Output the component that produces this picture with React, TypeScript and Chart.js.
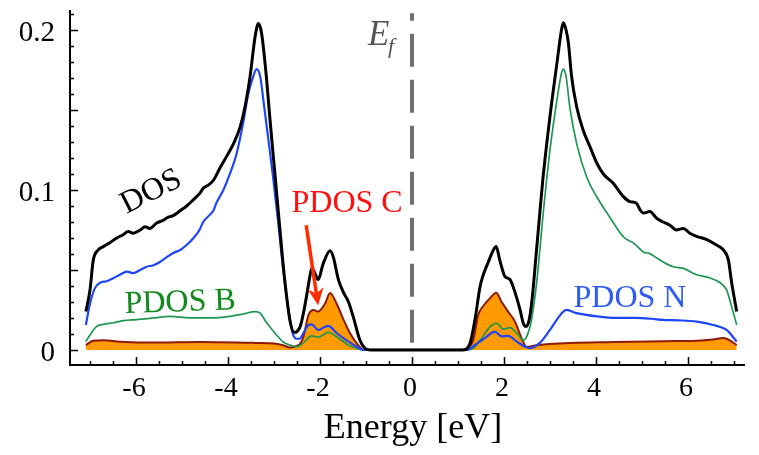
import { useEffect, useRef } from 'react';
import { Chart, registerables } from 'chart.js';

Chart.register(...registerables);

// ---- Density of states data (states / eV) ----
const dosEnergy = [
  -7.09, -7.0, -6.93, -6.82, -6.71, -6.57, -6.42, -6.28, -6.17, -6.06, -5.91, -5.8, -5.7, -5.55, -5.41,
  -5.3, -5.19, -5.04, -4.9, -4.75, -4.61, -4.54, -4.43, -4.32, -4.17, -4.03, -3.88, -3.74, -3.63, -3.52,
  -3.41, -3.34, -3.27, -3.17, -3.09, -2.98, -2.87, -2.76, -2.65, -2.56, -2.5, -2.43, -2.36, -2.29, -2.22,
  -2.18, -2.11, -2.04, -1.93, -1.78, -1.71, -1.6, -1.49, -1.38, -1.28, -1.13, -1.02, -0.9, 1.1, 1.26,
  1.37, 1.48, 1.55, 1.66, 1.77, 1.83, 1.91, 2.02, 2.13, 2.24, 2.35, 2.42, 2.48, 2.55, 2.62, 2.7, 2.78,
  2.85, 3.0, 3.15, 3.25, 3.29, 3.35, 3.4, 3.47, 3.58, 3.72, 3.87, 4.02, 4.16, 4.38, 4.59, 4.74, 4.88,
  4.96, 5.03, 5.17, 5.32, 5.46, 5.61, 5.75, 5.9, 6.04, 6.19, 6.41, 6.62, 6.77, 6.88, 6.95, 7.06,
];
const dosValue = [
  0.024, 0.0375, 0.056, 0.0625, 0.0646, 0.067, 0.07, 0.072, 0.074, 0.073, 0.075, 0.077, 0.076, 0.0794, 0.081,
  0.083, 0.084, 0.087, 0.09, 0.094, 0.098, 0.101, 0.103, 0.106, 0.114, 0.121, 0.129, 0.139, 0.152, 0.171,
  0.196, 0.204, 0.198, 0.172, 0.145, 0.11, 0.075, 0.042, 0.018, 0.011, 0.0115, 0.0146, 0.023, 0.034, 0.046,
  0.051, 0.048, 0.044, 0.054, 0.062, 0.058, 0.044, 0.036, 0.03, 0.021, 0.006, 0.001, 0, 0, 0.004,
  0.019, 0.0396, 0.047, 0.055, 0.0625, 0.0646, 0.056, 0.046, 0.044, 0.036, 0.025, 0.0167, 0.0146, 0.019, 0.034, 0.06, 0.086,
  0.108, 0.146, 0.179, 0.2, 0.2045, 0.2, 0.192, 0.171, 0.152, 0.1375, 0.127, 0.1167, 0.11, 0.104, 0.096, 0.0927, 0.0917,
  0.0875, 0.0856, 0.0865, 0.0823, 0.08, 0.078, 0.075, 0.076, 0.073, 0.071, 0.069, 0.0656, 0.0625, 0.056, 0.042, 0.024,
];

const pdosNEnergy = [
  -7.09, -7.0, -6.89, -6.78, -6.64, -6.49, -6.35, -6.2, -6.06, -5.91, -5.77, -5.62, -5.48, -5.33, -5.19,
  -5.04, -4.9, -4.75, -4.62, -4.54, -4.43, -4.32, -4.25, -4.1, -3.96, -3.81, -3.67, -3.56, -3.45, -3.38,
  -3.3, -3.23, -3.12, -3.02, -2.91, -2.8, -2.69, -2.6, -2.51, -2.44, -2.36, -2.25, -2.18, -2.04, -1.92,
  -1.82, -1.64, -1.42, -1.2, -1.06, 1.2, 1.41, 1.59, 1.8, 1.95, 2.09, 2.28, 2.46, 2.57, 2.78, 3.0, 3.15,
  3.29, 3.36, 3.58, 4.02, 4.45, 4.88, 5.2, 5.46, 5.8, 6.19, 6.55, 6.84, 7.06,
];
const pdosNValue = [
  0.0156, 0.029, 0.0388, 0.042, 0.043, 0.045, 0.047, 0.049, 0.048, 0.05, 0.052, 0.053, 0.055, 0.058, 0.0606,
  0.0625, 0.0656, 0.07, 0.075, 0.08, 0.0835, 0.087, 0.092, 0.1, 0.11, 0.123, 0.142, 0.16, 0.171, 0.1756,
  0.171, 0.156, 0.131, 0.108, 0.08, 0.05, 0.026, 0.011, 0.007, 0.007, 0.0106, 0.0156, 0.016, 0.0125, 0.014,
  0.015, 0.0106, 0.006, 0.002, 0, 0, 0.004, 0.0075, 0.0115, 0.0085, 0.0088, 0.0052, 0.002, 0.0012, 0.0044, 0.0125, 0.019,
  0.024, 0.025, 0.023, 0.021, 0.02, 0.02, 0.0195, 0.0188, 0.0185, 0.0177, 0.0156, 0.0125, 0.0052,
];

const pdosBEnergy = [
  -7.09, -7.0, -6.86, -6.71, -6.49, -6.28, -5.99, -5.62, -5.26, -4.83, -4.39, -3.96, -3.67, -3.41, -3.3,
  -3.16, -2.98, -2.8, -2.65, -2.51, -2.36, -2.18, -2.04, -1.82, -1.6, -1.38, -1.2, -1.05, 1.15, 1.33,
  1.48, 1.7, 1.84, 1.99, 2.13, 2.31, 2.42, 2.51, 2.6, 2.71, 2.86, 3.0, 3.15, 3.25, 3.29, 3.35, 3.43,
  3.58, 3.8, 4.02, 4.3, 4.6, 4.81, 4.88, 5.03, 5.17, 5.32, 5.46, 5.68, 5.9, 6.19, 6.48, 6.7, 6.84, 6.95, 7.06,
];
const pdosBValue = [
  0.0052, 0.0094, 0.0146, 0.016, 0.017, 0.0183, 0.019, 0.02, 0.021, 0.02, 0.02, 0.021, 0.0225, 0.024, 0.023,
  0.017, 0.0106, 0.005, 0.003, 0.002, 0.0044, 0.0088, 0.008, 0.011, 0.0075, 0.003, 0.001, 0, 0, 0.001,
  0.006, 0.0146, 0.0167, 0.013, 0.014, 0.0094, 0.006, 0.0094, 0.019, 0.042, 0.0875, 0.125, 0.156, 0.173, 0.1756, 0.171, 0.152,
  0.129, 0.108, 0.0956, 0.083, 0.0706, 0.0669, 0.0652, 0.0612, 0.0602, 0.0575, 0.055, 0.052, 0.051, 0.047, 0.045, 0.042, 0.0375, 0.027, 0.0156,
];

const pdosCEnergy = [
  -7.09, -6.93, -6.71, -6.35, -5.62, -4.61, -3.4, -3.0, -2.8, -2.65, -2.5, -2.43, -2.36, -2.25, -2.14,
  -2.04, -1.89, -1.78, -1.64, -1.49, -1.35, -1.17, -1.05, 1.05, 1.19, 1.33, 1.44, 1.55, 1.7, 1.83,
  1.95, 2.09, 2.24, 2.38, 2.49, 2.71, 3.0, 4.4, 5.5, 6.19, 6.55, 6.77, 6.91, 7.06,
];
const pdosCValue = [
  0.003, 0.0058, 0.006, 0.0052, 0.0046, 0.005, 0.0044, 0.004, 0.003, 0.0015, 0.0025, 0.004, 0.0083, 0.0219, 0.025,
  0.024, 0.029, 0.0356, 0.029, 0.019, 0.0106, 0.003, 0, 0, 0.001, 0.006, 0.0219, 0.0275, 0.0325, 0.0358,
  0.03, 0.024, 0.0177, 0.0075, 0.002, 0.003, 0.0038, 0.005, 0.0055, 0.0058, 0.0065, 0.0075, 0.006, 0.003,
];

// Fermi level marker (vertical dashed line at E = 0)
const fermiEnergy = 0;
const fermiSpan = [0.0045, 0.2105];

// ---- Axes ----
const X_MIN = -7.435;
const X_MAX = 7.24;
const Y_MIN = -0.0094;
const Y_MAX = 0.2125;
const xTickValues = [-6, -4, -2, 0, 2, 4, 6];
const xTickLabels = ['-6', '-4', '-2', '0', '2', '4', '6'];
const yTickValues = [0, 0.1, 0.2];
const yTickLabels = ['0', '0.1', '0.2'];

const SERIF = '"Liberation Serif", "Times New Roman", Times, serif';

const toPoints = (xs: number[], ys: number[]) => xs.map((x, i) => ({ x, y: ys[i] }));

// Axis frame, inward tick marks, tick labels, curve labels, arrow and axis title
const decorations = {
  id: 'decorations',
  afterDraw(chart: any) {
    const { ctx, chartArea } = chart;
    const xs = chart.scales.x;
    const ys = chart.scales.y;
    const px = (v: number) => xs.getPixelForValue(v);
    const py = (v: number) => ys.getPixelForValue(v);
    ctx.save();

    // axis lines
    ctx.strokeStyle = '#000';
    ctx.lineWidth = 2;
    ctx.beginPath();
    ctx.moveTo(chartArea.left, chartArea.top);
    ctx.lineTo(chartArea.left, chartArea.bottom);
    ctx.lineTo(chartArea.right, chartArea.bottom);
    ctx.stroke();

    // ticks (pointing into the plot)
    ctx.lineWidth = 1.5;
    ctx.beginPath();
    for (let i = 0; i <= 21; i++) {
      const v = i / 100;
      const len = i % 5 === 0 ? 8 : 4;
      const y = Math.round(py(v)) + 0.5;
      ctx.moveTo(chartArea.left, y);
      ctx.lineTo(chartArea.left + len, y);
    }
    for (let i = -14; i <= 14; i++) {
      const v = i / 2;
      const len = i % 4 === 0 ? 8 : 4;
      const x = Math.round(px(v)) + 0.5;
      ctx.moveTo(x, chartArea.bottom);
      ctx.lineTo(x, chartArea.bottom - len);
    }
    ctx.stroke();

    // tick labels
    ctx.fillStyle = '#000';
    ctx.textBaseline = 'alphabetic';
    ctx.font = `29px ${SERIF}`;
    ctx.textAlign = 'right';
    yTickValues.forEach((v, i) => {
      ctx.fillText(yTickLabels[i], chartArea.left - 15, py(v) + 11);
    });
    ctx.font = `28px ${SERIF}`;
    ctx.textAlign = 'center';
    xTickValues.forEach((v, i) => {
      ctx.fillText(xTickLabels[i], px(v) - 2, chartArea.bottom + 31);
    });

    // axis title
    ctx.font = `36px ${SERIF}`;
    ctx.textAlign = 'center';
    ctx.fillText('Energy [eV]', px(0) + 1, chartArea.bottom + 73);

    // Fermi level label
    ctx.fillStyle = '#555';
    ctx.textAlign = 'left';
    ctx.font = `italic 35px ${SERIF}`;
    ctx.fillText('E', 368, 45);
    ctx.font = `italic 22px ${SERIF}`;
    ctx.fillText('f', 388, 53);

    // DOS label (rotated along the curve)
    ctx.save();
    ctx.translate(px(-5.67), py(0.0988));
    ctx.rotate((-27 * Math.PI) / 180);
    ctx.fillStyle = '#000';
    ctx.font = `32px ${SERIF}`;
    ctx.textAlign = 'center';
    ctx.textBaseline = 'middle';
    ctx.fillText('DOS', 0, 0);
    ctx.restore();

    ctx.font = `32px ${SERIF}`;
    ctx.textAlign = 'center';
    ctx.textBaseline = 'middle';

    ctx.fillStyle = '#ff1010';
    ctx.fillText('PDOS C', px(-1.41), py(0.0915));

    ctx.save();
    ctx.translate(px(-5.04), py(0.0295));
    ctx.rotate((-2 * Math.PI) / 180);
    ctx.fillStyle = '#148a1e';
    ctx.fillText('PDOS B', 0, 0);
    ctx.restore();

    ctx.fillStyle = '#2f5cf0';
    ctx.fillText('PDOS N', px(4.74), py(0.0319));

    // arrow pointing at the PDOS C peak
    const sx = px(-2.3), sy = py(0.078);
    const tx = px(-2.04), ty = py(0.028);
    const ang = Math.atan2(ty - sy, tx - sx);
    const headLen = 17, headW = 8;
    const cos = Math.cos(ang), sin = Math.sin(ang);
    const bx = tx - headLen * 0.7 * cos, by = ty - headLen * 0.7 * sin;
    ctx.strokeStyle = '#ff2a00';
    ctx.fillStyle = '#ff2a00';
    ctx.lineWidth = 3.5;
    ctx.beginPath();
    ctx.moveTo(sx, sy);
    ctx.lineTo(bx, by);
    ctx.stroke();
    ctx.beginPath();
    ctx.moveTo(tx, ty);
    ctx.lineTo(tx - headLen * cos - headW * sin, ty - headLen * sin + headW * cos);
    ctx.lineTo(bx, by);
    ctx.lineTo(tx - headLen * cos + headW * sin, ty - headLen * sin - headW * cos);
    ctx.closePath();
    ctx.fill();

    ctx.restore();
  },
};

export default function App() {
  const canvasRef = useRef<HTMLCanvasElement>(null);

  useEffect(() => {
    document.body.style.margin = '0';
    const canvas = canvasRef.current;
    if (!canvas) return;
    const chart = new Chart(canvas, {
      type: 'line',
      data: {
        datasets: [
          {
            label: 'E_f',
            data: [
              { x: fermiEnergy, y: fermiSpan[0] },
              { x: fermiEnergy, y: fermiSpan[1] },
            ],
            borderColor: '#707070',
            borderWidth: 4,
            borderDash: [33, 13],
            tension: 0,
            cubicInterpolationMode: 'default',
            fill: false,
            order: 0,
          },
          {
            label: 'DOS',
            data: toPoints(dosEnergy, dosValue),
            borderColor: '#000',
            borderWidth: 3,
            fill: false,
            order: 1,
          },
          {
            label: 'PDOS N',
            data: toPoints(pdosNEnergy, pdosNValue),
            borderColor: '#1f45f8',
            borderWidth: 2.2,
            fill: false,
            order: 2,
          },
          {
            label: 'PDOS B',
            data: toPoints(pdosBEnergy, pdosBValue),
            borderColor: '#1f9652',
            borderWidth: 1.7,
            fill: false,
            order: 3,
          },
          {
            label: 'PDOS C',
            data: toPoints(pdosCEnergy, pdosCValue),
            borderColor: '#8c1a06',
            borderWidth: 2,
            backgroundColor: '#ff9a00',
            fill: 'origin',
            order: 4,
          },
        ],
      },
      options: {
        responsive: false,
        animation: false,
        devicePixelRatio: 1,
        layout: { padding: { left: 0, top: 10, right: 14, bottom: 0 } },
        elements: {
          point: { radius: 0, hoverRadius: 0 },
          line: { cubicInterpolationMode: 'monotone', borderCapStyle: 'butt', borderJoinStyle: 'round' },
        },
        plugins: {
          legend: { display: false },
          tooltip: { enabled: false },
        },
        scales: {
          x: {
            type: 'linear',
            min: X_MIN,
            max: X_MAX,
            grid: { display: false, drawTicks: false },
            border: { display: false },
            ticks: { display: false },
            afterFit: (scale: any) => {
              scale.height = 90;
            },
          },
          y: {
            type: 'linear',
            min: Y_MIN,
            max: Y_MAX,
            grid: { display: false, drawTicks: false },
            border: { display: false },
            ticks: { display: false },
            afterFit: (scale: any) => {
              scale.width = 70;
            },
          },
        },
      },
      plugins: [decorations],
    } as any);
    return () => chart.destroy();
  }, []);

  return (
    <div style={{ position: 'fixed', left: 0, top: 0, width: 759, height: 455, background: '#fff' }}>
      <canvas ref={canvasRef} width={759} height={455} style={{ display: 'block', width: 759, height: 455 }} />
    </div>
  );
}
